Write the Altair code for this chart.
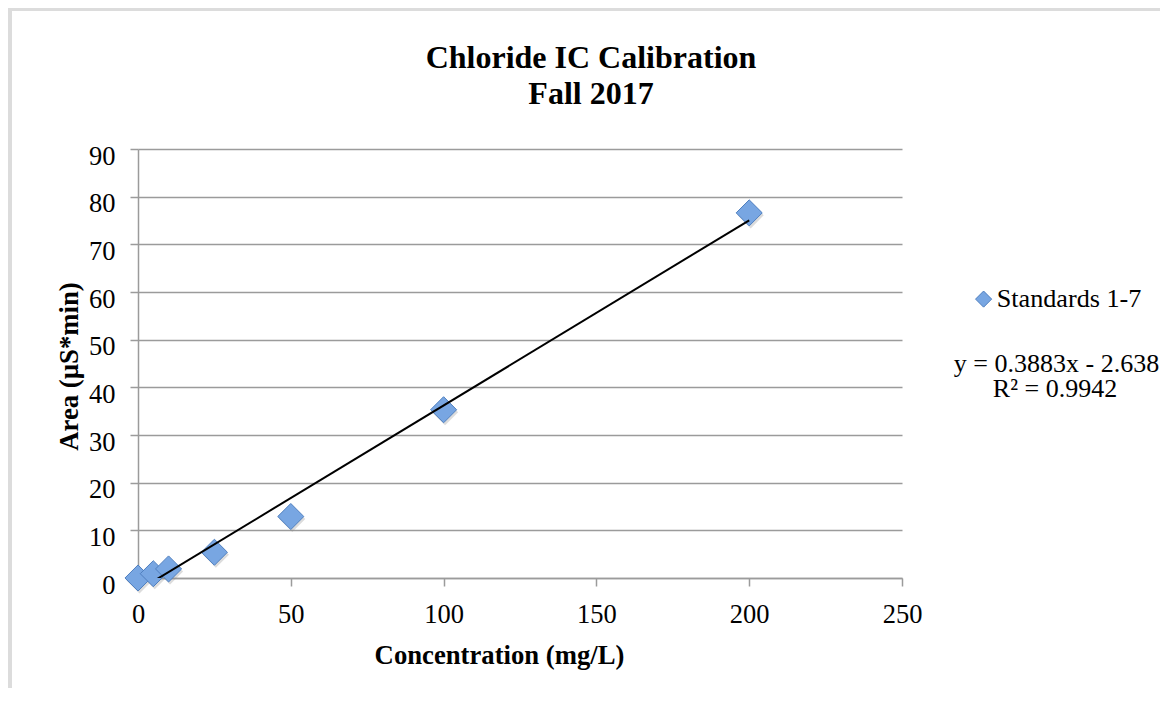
import altair as alt
import pandas as pd

# ---- data ----
conc = [0, 5, 10, 25, 50, 100, 200]
area = [0.0, 0.9, 1.9, 5.4, 12.9, 35.3, 76.6]
series_name = "Standards 1-7"
x_ticks = [0, 50, 100, 150, 200, 250]
y_ticks = [0, 10, 20, 30, 40, 50, 60, 70, 80, 90]
title_lines = ["Chloride IC Calibration", "Fall 2017"]
x_title = "Concentration (mg/L)"
y_title = "Area (µS*min)"
eq_lines = ["y = 0.3883x - 2.638", "R² = 0.9942"]

df = pd.DataFrame({"conc": conc, "area": area, "series": [series_name] * len(conc)})

FONT = "Liberation Serif"
W, H = 764, 429
PAD = {"left": 130, "top": 141, "right": 258, "bottom": 110}
GREY = "#9b9b9b"
FILL = "#78a6e2"
EDGE = "#4f7fbf"

base = alt.Chart(df)

x_enc = alt.X(
    "conc:Q",
    scale=alt.Scale(domain=[0, 250], nice=False, zero=False),
    axis=alt.Axis(
        values=x_ticks, title=x_title, grid=False, labelPadding=15, labelFlush=False,
        titleX=361, titleY=85, titleBaseline="alphabetic",
    ),
)
y_enc = alt.Y(
    "area:Q",
    scale=alt.Scale(domain=[0, 90], nice=False),
    axis=alt.Axis(
        values=y_ticks, title=y_title, grid=True, labelPadding=15, labelFlush=False,
        labelBaseline="middle", labelOffset=7,
        titleX=-61, titleY=217, titleBaseline="alphabetic", titleAngle=270,
    ),
)

shadow = base.mark_point(
    shape="diamond", filled=True, size=680, color="#8a8a8a", opacity=0.3,
    xOffset=1.5, yOffset=2.5,
).encode(x=x_enc, y=y_enc)

pts = base.mark_point(
    shape="diamond", filled=True, size=680, stroke=EDGE, strokeWidth=1, opacity=1,
).encode(
    x=x_enc,
    y=y_enc,
    color=alt.Color(
        "series:N",
        scale=alt.Scale(domain=[series_name], range=[FILL]),
        legend=alt.Legend(
            title=None, orient="none", legendX=832.5, legendY=137,
            symbolType="diamond", symbolSize=260, symbolStrokeColor=EDGE,
            symbolStrokeWidth=1, symbolFillColor=FILL, symbolOpacity=1,
            labelFont=FONT, labelFontSize=26.2, labelColor="black",
            labelOffset=0, padding=0,
        ),
    ),
)

trend = base.transform_regression(
    "conc", "area", method="linear", extent=[0, 200]
).mark_line(color="black", strokeWidth=2, clip=True).encode(
    x=alt.X("conc:Q"), y=alt.Y("area:Q")
)


def label_layer(txt, px, py, size, weight="normal"):
    return alt.Chart(pd.DataFrame({"label": [txt]})).mark_text(
        font=FONT, fontSize=size, fontWeight=weight, color="black",
        align="center", baseline="alphabetic",
    ).encode(text="label:N", x=alt.value(px), y=alt.value(py))


eq1 = label_layer(eq_lines[0], 918.5, 222.7, 26)
eq2 = label_layer(eq_lines[1], 917, 248.3, 26)
t1 = label_layer(title_lines[0], 453, -81.3, 32, "bold")
t2 = label_layer(title_lines[1], 453, -45, 32, "bold")

one = pd.DataFrame({"k": [0]})
frame_top = alt.Chart(one).mark_rule(color="#dcdcdc", strokeWidth=3).encode(
    x=alt.value(-PAD["left"]), x2=alt.value(W + PAD["right"]), y=alt.value(-139.5)
)
frame_left = alt.Chart(one).mark_rule(color="#dcdcdc", strokeWidth=4).encode(
    x=alt.value(-128), y=alt.value(-PAD["top"]), y2=alt.value(H + PAD["bottom"])
)

chart = alt.layer(
    frame_top, frame_left, shadow, pts, trend, eq1, eq2, t1, t2
).properties(
    width=W,
    height=H,
    padding=PAD,
    autosize=alt.AutoSizeParams(type="none"),
).configure_view(stroke=None).configure_axis(
    domainColor=GREY, domainWidth=1.5, tickColor=GREY, tickWidth=1.5, tickSize=8,
    gridColor=GREY, gridWidth=1.5,
    labelFont=FONT, labelFontSize=26.5, labelColor="black",
    titleFont=FONT, titleFontSize=26.7, titleFontWeight="bold", titleColor="black",
)

chart.save("out.html", embed_options={"renderer": "svg", "actions": False})
